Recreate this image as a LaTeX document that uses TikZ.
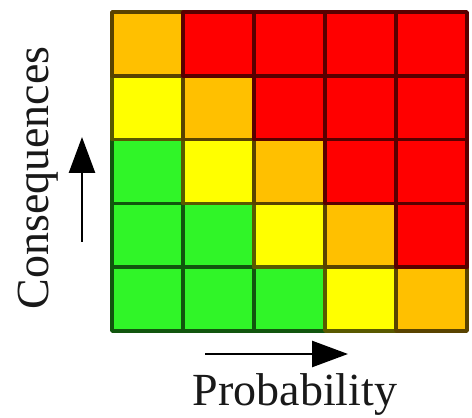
\documentclass[tikz,border=0pt]{standalone}
\usepackage{fontspec}
\setmainfont{Liberation Serif}
\usepackage{tikz}
\usepackage{xcolor}
\usetikzlibrary{arrows.meta,positioning}
\definecolor{riskG}{RGB}{48,245,40}
\definecolor{riskY}{RGB}{255,255,0}
\definecolor{riskO}{RGB}{255,192,0}
\definecolor{riskR}{RGB}{255,0,0}
\tikzset{
  every picture/.append style={line cap=round,line join=round},
  risk cell/.style={line width=3.6pt,line cap=rect},
  risk arrow/.style={line width=2.6pt,line cap=butt,-{Triangle[length=36pt,width=26pt]}},
  risk label/.style={font=\fontsize{46}{50}\selectfont,text=black!90}
}

\begin{document}
\begin{tikzpicture}[x=1pt,y=1pt]
  \useasboundingbox (0,0) rectangle (472,418);
  % rows from the bottom, columns from the left
  \foreach \row/\cols in {0/{G,G,G,Y,O},1/{G,G,Y,O,R},2/{G,Y,O,R,R},3/{Y,O,R,R,R},4/{O,R,R,R,R}} {
    \foreach \c [count=\col from 0] in \cols {
      \draw[risk cell,fill=risk\c,draw=risk\c!35!black]
        (112+71*\col,87+63.8*\row) rectangle ++(71,63.8);
    }
  }
  \coordinate (up start) at (82,176);
  \coordinate (up end) at (82,281);
  \coordinate (right start) at (205,64);
  \coordinate (right end) at (348,64);
  \draw[risk arrow] (up start) -- (up end);
  \draw[risk arrow] (right start) -- (right end);
  \node[risk label,rotate=90,anchor=base] (conseq) at (49,240) {Consequences};
  \node[risk label,anchor=base] (prob) at (295,12) {Probability};
\end{tikzpicture}
\end{document}
